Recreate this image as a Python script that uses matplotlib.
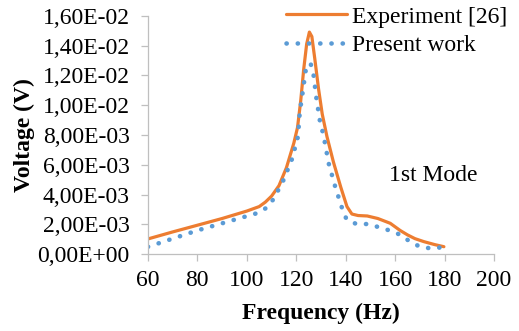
import matplotlib
matplotlib.use("Agg")
import matplotlib.pyplot as plt
from matplotlib.ticker import FixedLocator

# Data
exp_freq = [60, 70, 80, 90, 100, 105, 107.5, 110, 113, 116, 119, 120.5, 121.8, 123, 124.2, 125.3, 126.3, 127.5, 129, 130.5, 132.4, 135, 138, 140.5, 142.5, 145, 148.7, 153, 158, 162, 165, 168, 171.6, 176, 179.7]
exp_volt = [0.00103, 0.0015, 0.00195, 0.0024, 0.0029, 0.0032, 0.0035, 0.0039, 0.0046, 0.0058, 0.00745, 0.0085, 0.0103, 0.0124, 0.0141, 0.0149, 0.0146, 0.0131, 0.0111, 0.0094, 0.0079, 0.0062, 0.0045, 0.0032, 0.0027, 0.0026, 0.00257, 0.0024, 0.00208, 0.0016, 0.0013, 0.00105, 0.00085, 0.00065, 0.00051]

pw_freq = [60, 80, 104, 107.8, 110.8, 114.9, 118.3, 120.7, 121.4, 122.7, 124, 125.8, 127, 128.1, 129.5, 131.1, 133.1, 135.8, 138.5, 140.3, 144.3, 148.9, 153.8, 158.1, 162.2, 166, 170, 174.2, 179.3]
pw_volt = [0.0005, 0.0016, 0.00275, 0.0031, 0.0037, 0.005, 0.0064, 0.0079, 0.0095, 0.011, 0.01255, 0.0128, 0.012, 0.0105, 0.009, 0.0079, 0.0061, 0.0045, 0.0031, 0.00235, 0.00203, 0.00203, 0.0018, 0.00158, 0.0013, 0.00085, 0.00051, 0.0004, 0.00047]

x_ticks = [60, 80, 100, 120, 140, 160, 180, 200]
y_ticks = [0.0, 0.002, 0.004, 0.006, 0.008, 0.010, 0.012, 0.014, 0.016]
y_tick_labels = ["0,00E+00", "2,00E-03", "4,00E-03", "6,00E-03", "8,00E-03",
                 "1,00E-02", "1,20E-02", "1,40E-02", "1,60E-02"]

plt.rcParams['font.family'] = ['Liberation Serif', 'DejaVu Serif']

fig = plt.figure(figsize=(5.19, 3.31), dpi=100)
ax = fig.add_axes([0.285, 0.2317, 0.952 - 0.285, 0.9526 - 0.2317])

orange = '#ED7D31'
blue = '#5B9BD5'
ax.plot(exp_freq, exp_volt, color=orange, lw=2.3, solid_capstyle='round',
        solid_joinstyle='round', label='Experiment [26]')
ax.plot(pw_freq, pw_volt, color=blue, lw=3.3, linestyle=(0, (0.05, 2.4)),
        dash_capstyle='round', label='Present work')

ax.set_xlim(60, 200)
ax.set_ylim(0, 0.016)
ax.xaxis.set_major_locator(FixedLocator(x_ticks))
ax.yaxis.set_major_locator(FixedLocator(y_ticks))
ax.set_yticklabels(y_tick_labels)
ax.set_xticklabels([str(v) for v in x_ticks])

for s in ['top', 'right']:
    ax.spines[s].set_visible(False)
for s in ['left', 'bottom']:
    ax.spines[s].set_color('#BFBFBF')
    ax.spines[s].set_linewidth(0.9)
ax.tick_params(axis='both', direction='out', length=5, width=0.9, color='#BFBFBF',
               labelsize=17, labelcolor='black')
ax.tick_params(axis='x', pad=6)
ax.tick_params(axis='y', pad=8)

ax.set_xlabel('Frequency (Hz)', fontsize=17, fontweight='bold', labelpad=9)
ax.set_ylabel('Voltage (V)', fontsize=17, fontweight='bold', labelpad=2)

ax.text(175.2, 0.0053, '1st Mode', fontsize=17, ha='center', va='center')

leg = ax.legend(loc='upper right', bbox_to_anchor=(507/519, 1 - 6/331), bbox_transform=fig.transFigure,
                frameon=False, fontsize=17, handlelength=2.6, handletextpad=0.2,
                labelspacing=0.3, borderpad=0, borderaxespad=0)

fig.savefig('out.png', dpi=100)
